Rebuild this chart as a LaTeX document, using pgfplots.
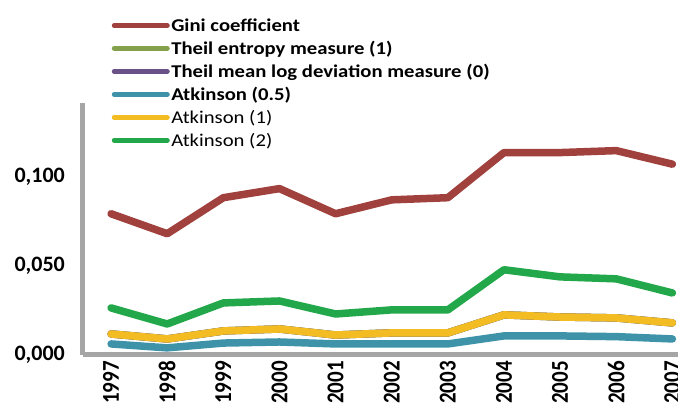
\documentclass[border=0pt]{standalone}
\usepackage{fontspec}
\setmainfont{Carlito}[FakeStretch=1.15]
\newfontfamily\yrfont{Carlito}
\usepackage{pgfplots}
\pgfplotsset{compat=1.18}
\definecolor{cRed}{RGB}{160,65,61}
\definecolor{cOlive}{RGB}{132,160,74}
\definecolor{cPurple}{RGB}{106,82,137}
\definecolor{cTeal}{RGB}{63,147,168}
\definecolor{cYellow}{RGB}{242,188,34}
\definecolor{cGreen}{RGB}{34,168,74}
\definecolor{axgrey}{RGB}{166,166,166}
\newcommand\yr[1]{\scalebox{1}[1.15]{#1}}
\begin{document}
\begin{tikzpicture}[x=1pt,y=1pt]
\useasboundingbox (0,0) rectangle (678,410);
\begin{axis}[
  at={(83pt,55pt)}, anchor=south west,
  scale only axis, width=595pt, height=252pt,
  xmin=1996.5, xmax=2007.1, ymin=0, ymax=0.1413,
  clip=false,
  axis lines=left,
  axis line style={-, line width=5pt, draw=axgrey},
  major tick length=0pt,
  xtick={1997,1998,1999,2000,2001,2002,2003,2004,2005,2006,2007},
  xticklabels={\yr{1997},\yr{1998},\yr{1999},\yr{2000},\yr{2001},\yr{2002},\yr{2003},\yr{2004},\yr{2005},\yr{2006},\yr{2007}},
  xticklabel style={yshift=-6pt, rotate=90, anchor=east, inner sep=0pt, font=\yrfont\bfseries\fontsize{21}{21}\selectfont},
  ytick={0,0.05,0.1},
  yticklabels={{0,000},{0,050},{0,100}},
  yticklabel style={anchor=east, inner sep=0pt, xshift=-18pt, font=\yrfont\bfseries\fontsize{22}{22}\selectfont},
  legend cell align=left,
  legend image code/.code={\draw[line width=5pt, line cap=round] (0pt,0pt) -- (53pt,0pt);},
  legend style={at={(0.043,1.35)}, anchor=north west, draw=none, fill=none,
    font=\fontsize{18}{18}\selectfont, row sep=5.2pt,
    nodes={inner sep=1.5pt}},
  every axis plot/.append style={line width=7.5pt, line cap=round, line join=round, mark=none},
]
\addplot[cRed] coordinates {(1997,0.0792)(1998,0.0680)(1999,0.0882)(2000,0.0933)(2001,0.0792)(2002,0.0870)(2003,0.0882)(2004,0.1135)(2005,0.1135)(2006,0.1146)(2007,0.1070)};
\addlegendentry{\textbf{Gini coefficient}}
\addplot[cOlive] coordinates {(1997,0.0118)(1998,0.0090)(1999,0.0135)(2000,0.0146)(2001,0.0112)(2002,0.0124)(2003,0.0124)(2004,0.0225)(2005,0.0213)(2006,0.0208)(2007,0.0180)};
\addlegendentry{\textbf{Theil entropy measure (1)}}
\addplot[cPurple] coordinates {(1997,0.0118)(1998,0.0090)(1999,0.0135)(2000,0.0146)(2001,0.0112)(2002,0.0124)(2003,0.0124)(2004,0.0225)(2005,0.0213)(2006,0.0208)(2007,0.0180)};
\addlegendentry{\textbf{Theil mean log deviation measure (0)}}
\addplot[cTeal] coordinates {(1997,0.0062)(1998,0.0040)(1999,0.0067)(2000,0.0073)(2001,0.0062)(2002,0.0062)(2003,0.0062)(2004,0.0107)(2005,0.0107)(2006,0.0103)(2007,0.0090)};
\addlegendentry{\textbf{Atkinson (0.5)}}
\addplot[cYellow] coordinates {(1997,0.0118)(1998,0.0090)(1999,0.0135)(2000,0.0146)(2001,0.0112)(2002,0.0124)(2003,0.0124)(2004,0.0225)(2005,0.0213)(2006,0.0208)(2007,0.0180)};
\addlegendentry{Atkinson (1)}
\addplot[cGreen] coordinates {(1997,0.0264)(1998,0.0174)(1999,0.0292)(2000,0.0303)(2001,0.0230)(2002,0.0253)(2003,0.0253)(2004,0.0478)(2005,0.0438)(2006,0.0427)(2007,0.0348)};
\addlegendentry{Atkinson (2)}
\end{axis}
\end{tikzpicture}
\end{document}
